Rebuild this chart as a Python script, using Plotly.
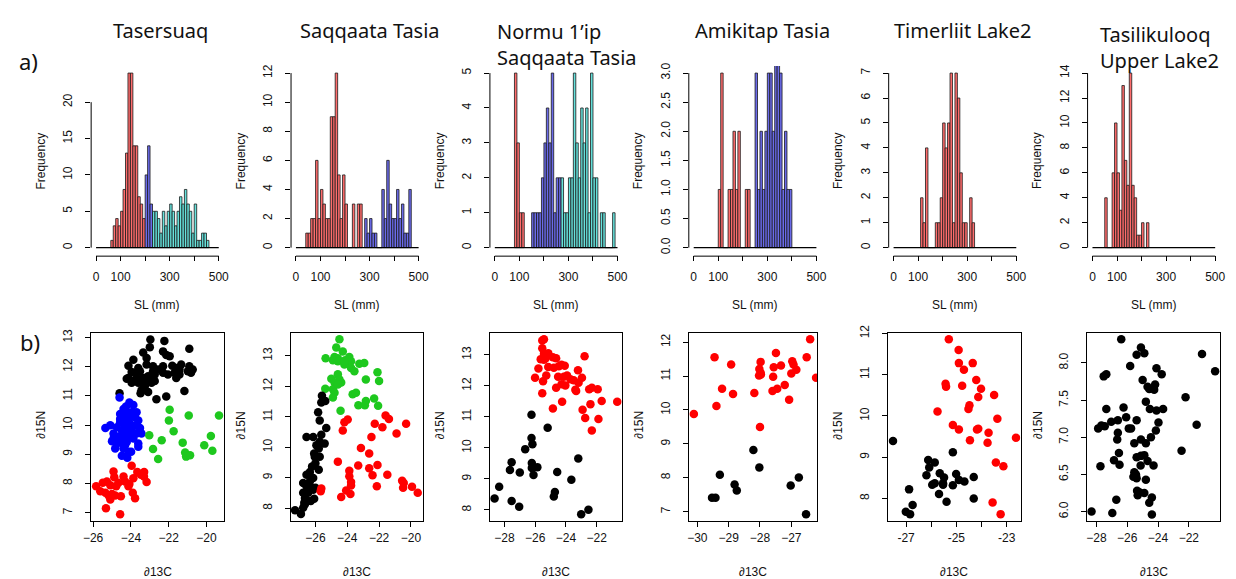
import plotly.graph_objects as go

W, H = 1236, 579

# ---------------- DATA: row a) histograms of SL (mm), 10 mm bins ----------------
BIN_W = 10
SL_BREAKS = [0, 500]

tasersuaq_red_from = 60
tasersuaq_red = [1, 3, 4, 3, 5, 8, 13, 24, 24, 14, 14, 7, 6, 4]
tasersuaq_blue_from = 200
tasersuaq_blue = [10, 14, 6]
tasersuaq_cyan_from = 230
tasersuaq_cyan = [5, 5, 4, 2, 5, 3, 5, 6, 5, 3, 5, 7, 6, 8, 6, 5, 2, 6, 1, 1, 2, 2, 1]

saqqaata_red_from = 40
saqqaata_red = [1, 1, 2, 2, 6, 2, 4, 3, 2, 2, 9, 9, 12, 5, 2, 5, 3, 0, 0, 3, 0, 3, 3]
saqqaata_blue_from = 280
saqqaata_blue = [2, 1, 2, 1, 1, 0, 0, 4, 2, 6, 3, 2, 2, 4, 2, 3, 1, 1, 4]

normu_red_from = 80
normu_red = [5, 3, 1, 1]
normu_blue_from = 150
normu_blue = [1, 1, 1, 1, 2, 3, 4, 3, 5, 1, 2, 2]
normu_cyan_from = 270
normu_cyan = [2, 1, 1, 2, 2, 5, 3, 2, 4, 3, 4, 1, 5, 2, 2, 0, 1, 1, 0, 0, 0, 1]

amikitap_red_from = 100
amikitap_red = [1, 3, 0, 0, 1, 1, 2, 1, 2, 0, 0, 1, 1]
amikitap_blue_from = 250
amikitap_blue = [3, 1, 2, 1, 2, 3, 3, 2, 4, 4, 3, 1, 2, 1, 1]

timerliit_red_from = 110
timerliit_red = [2, 1, 4, 0, 0, 0, 1, 1, 2, 5, 4, 5, 7, 1, 7, 6, 3, 1, 1, 0, 2, 1]

tasilikulooq_red_from = 50
tasilikulooq_red = [4, 0, 0, 6, 10, 6, 3, 13, 7, 5, 14, 5, 4, 1, 1, 2, 0, 2]

hist_titles = ["Tasersuaq", "Saqqaata Tasia", "Normu 1\u2019ip<br>Saqqaata Tasia",
               "Amikitap Tasia", "Timerliit Lake2", "Tasilikulooq<br>Upper Lake2"]
hist_ymax = [24, 12, 5, 3, 7, 14]
hist_yticks = [[0, 5, 10, 15, 20], [0, 2, 4, 6, 8, 10, 12], [0, 1, 2, 3, 4, 5],
               [0, 0.5, 1, 1.5, 2, 2.5, 3], [0, 1, 2, 3, 4, 5, 6, 7],
               [0, 2, 4, 6, 8, 10, 12, 14]]
sl_ticks = [0, 100, 200, 300, 400, 500]
sl_ticktext = ["0", "100", "", "300", "", "500"]

# ---------------- DATA: row b) d13C / d15N scatter ----------------
s1_black_c = [-22.97, -22.23, -23.35, -23.0, -22.3, -22.13, -21.95, -20.91, -23.87, -24.13, -23.17, -23.17,
              -23.61, -23.96, -23.52, -22.83, -22.56, -22.3, -21.81, -21.6, -21.34, -20.91, -20.73, -20.82,
              -20.99, -21.43, -21.69, -22.04, -22.3, -22.74, -23.09, -23.35, -23.7, -24.22, -23.87, -23.61,
              -23.35, -23.17, -22.91, -22.74, -23.26, -23.44, -23.09, -23.49, -24.6, -22.65, -22.13, -21.17,
              -21.6, -23.96, -22.83, -21.43, -23.7, -24.13, -23.0]
s1_black_n = [12.94, 12.89, 12.49, 12.67, 12.53, 12.41, 12.36, 12.62, 12.24, 12.04, 12.3, 12.08,
              11.96, 11.82, 11.85, 11.85, 11.91, 12.02, 12.04, 11.96, 12.08, 12.02, 11.91, 11.8,
              11.85, 11.91, 11.8, 11.74, 11.8, 11.74, 11.68, 11.62, 11.62, 11.59, 11.51, 11.45,
              11.4, 11.45, 11.45, 11.51, 11.34, 11.2, 11.14, 11.09, 11.09, 10.89, 10.98, 11.17,
              11.62, 11.45, 12.02, 11.74, 11.79, 11.62, 11.62]
s1_blue_c = [-24.6, -24.08, -23.87, -24.39, -24.57, -24.22, -23.96, -23.7, -24.36, -24.13, -23.78, -23.61,
             -24.57, -24.31, -24.05, -23.78, -23.52, -25.35, -25.09, -24.74, -24.48, -24.22, -23.96, -23.7,
             -23.44, -24.92, -24.66, -24.39, -24.13, -23.87, -24.92, -24.74, -24.48, -24.22, -23.61, -23.61,
             -24.83, -24.39, -24.13, -24.48, -24.19, -23.99, -24.57, -24.26, -24.05, -24.39, -24.22, -23.96,
             -24.57, -24.31, -25.0, -24.13]
s1_blue_n = [10.95, 10.78, 10.69, 10.55, 10.38, 10.44, 10.44, 10.44, 10.27, 10.21, 10.27, 10.16,
             10.1, 9.99, 10.05, 9.99, 9.9, 9.9, 10.0, 9.93, 9.82, 9.76, 9.82, 9.71,
             9.71, 9.71, 9.6, 9.65, 9.6, 9.54, 9.54, 9.37, 9.42, 9.42, 9.37, 9.26,
             9.2, 9.2, 9.09, 8.95, 8.88, 9.09, 10.21, 10.64, 10.3, 10.16, 9.88, 9.65,
             9.48, 9.31, 9.45, 10.13]
s1_green_c = [-21.95, -21.99, -21.74, -23.03, -22.37, -22.83, -22.56, -21.26, -20.94, -19.34, -19.77,
              -20.12, -19.69, -21.13, -21.08, -20.87]
s1_green_n = [10.53, 10.16, 9.79, 9.65, 9.48, 9.18, 8.84, 9.4, 10.33, 10.33, 9.63,
              9.31, 9.12, 9.06, 8.92, 8.97]
s1_red_c = [-25.84, -25.49, -25.62, -25.35, -25.18, -25.0, -24.83, -25.09, -25.32, -24.57, -24.53, -24.92,
            -24.88, -25.09, -24.78, -24.39, -24.31, -24.13, -24.08, -23.96, -23.87, -23.9, -23.78, -23.66,
            -23.47, -23.3, -23.31, -23.17, -24.66, -25.27]
s1_red_n = [7.9, 8.02, 7.73, 7.68, 7.59, 7.64, 7.59, 7.45, 7.15, 6.94, 7.56, 8.41,
            8.21, 7.94, 7.9, 8.24, 8.07, 7.9, 7.98, 8.61, 8.18, 7.68, 7.49, 8.39,
            8.3, 8.39, 8.24, 8.05, 8.02, 8.07]

s2_green_c = [-24.49, -24.69, -24.28, -25.36, -24.8, -24.59, -24.9, -24.59, -24.13, -23.87, -23.97, -23.76,
              -23.24, -22.93, -23.76, -23.55, -22.1, -24.18, -22.83, -22.0, -25.0, -24.59, -24.49, -24.8,
              -24.38, -24.9, -24.59, -25.38, -24.8, -23.66, -23.45, -24.9, -22.83, -23.3, -22.89, -22.31,
              -22.06, -24.42, -24.18]
s2_green_n = [13.54, 13.27, 13.14, 12.92, 12.96, 12.92, 12.85, 12.82, 12.85, 12.96, 12.76, 12.82,
              12.74, 12.76, 12.6, 12.49, 12.46, 12.71, 12.22, 12.17, 12.25, 12.39, 12.22, 12.12,
              12.12, 11.9, 12.06, 11.92, 11.79, 11.74, 11.79, 11.63, 11.52, 11.38, 11.38, 11.6,
              11.36, 11.2, 12.82]
s2_black_c = [-25.59, -25.38, -25.63, -25.83, -25.73, -25.32, -26.56, -26.14, -25.63, -25.42, -25.94, -25.73,
              -25.79, -26.08, -26.04, -25.73, -26.0, -26.21, -25.79, -26.35, -26.56, -26.77, -26.35, -26.14,
              -26.56, -26.25, -26.0, -26.77, -26.46, -26.14, -26.66, -26.7, -26.77, -26.08, -27.28, -26.91,
              -26.66, -26.29]
s2_black_n = [11.69, 11.52, 11.47, 11.15, 10.88, 10.63, 10.34, 10.34, 10.41, 10.12, 10.07, 10.18,
              9.96, 9.8, 9.69, 9.69, 9.48, 9.37, 9.26, 9.19, 9.1, 8.83, 8.88, 8.99,
              8.72, 8.67, 8.67, 8.51, 8.51, 8.61, 8.34, 8.18, 8.02, 8.31, 7.94, 7.81,
              8.13, 8.24]
s2_red_c = [-24.18, -23.97, -24.28, -21.59, -21.38, -22.27, -21.79, -20.3, -20.9, -22.48, -23.14, -22.62,
            -24.59, -23.87, -23.31, -22.1, -22.62, -22.41, -21.48, -23.87, -23.76, -23.76, -23.8, -24.07,
            -24.38, -22.14, -20.55, -20.45, -20.49, -19.93, -19.57, -25.63, -25.67]
s2_red_n = [10.82, 10.91, 10.55, 11.04, 10.93, 10.77, 10.66, 10.77, 10.45, 10.34, 9.98, 9.8,
            9.53, 9.23, 9.4, 9.42, 9.31, 9.08, 9.1, 9.05, 8.86, 8.75, 8.47, 8.58,
            8.37, 8.72, 8.9, 8.83, 8.67, 8.71, 8.51, 8.65, 8.56]

s3_red_c = [-25.54, -25.43, -25.54, -25.43, -25.15, -25.43, -25.32, -24.85, -24.64, -22.79, -25.79, -25.15,
            -24.79, -24.46, -24.29, -24.08, -26.01, -25.49, -25.28, -24.51, -24.14, -23.93, -24.29, -24.04,
            -23.71, -23.5, -24.64, -23.22, -23.39, -23.34, -22.96, -23.18, -22.49, -22.32, -21.94, -25.54,
            -24.25, -21.68, -20.67, -24.85, -22.41, -22.92, -22.75, -21.89, -22.32, -25.64]
s3_red_n = [13.46, 13.5, 13.21, 13.03, 13.05, 12.84, 12.89, 12.92, 12.89, 12.95, 12.56, 12.61,
            12.58, 12.63, 12.68, 12.65, 12.26, 12.15, 12.33, 12.29, 12.29, 12.33, 12.05, 12.01,
            12.21, 12.18, 11.94, 12.5, 11.87, 11.83, 12.26, 12.1, 11.89, 11.94, 11.89, 11.76,
            11.49, 11.51, 11.49, 11.27, 11.41, 11.23, 10.96, 10.93, 10.56, 12.86]
s3_black_c = [-26.24, -25.19, -26.24, -26.18, -26.65, -27.53, -27.64, -27.0, -26.22, -26.22, -25.86, -26.11,
              -23.2, -23.65, -24.57, -28.34, -28.64, -27.53, -27.04, -24.72, -24.79, -23.01, -22.54]
s3_black_n = [11.07, 10.65, 10.32, 10.12, 9.96, 9.54, 9.29, 9.21, 9.51, 9.35, 9.38, 9.13,
              9.66, 8.97, 9.22, 8.75, 8.37, 8.29, 8.1, 8.58, 8.43, 7.86, 8.01]

s4_red_c = [-30.11, -29.45, -29.39, -29.21, -28.92, -28.86, -28.18, -27.98, -28.02, -27.98, -28.03, -27.97,
            -28.0, -27.58, -27.56, -27.49, -27.33, -27.6, -27.45, -27.21, -27.07, -27.0, -26.97, -26.93,
            -26.84, -26.51, -26.4, -26.21]
s4_red_n = [9.88, 11.56, 10.12, 10.63, 11.34, 10.47, 10.5, 11.42, 11.21, 11.1, 11.02, 11.05,
            9.5, 10.98, 11.26, 11.68, 11.31, 10.56, 10.63, 10.74, 10.3, 11.08, 11.44, 11.34,
            11.19, 11.56, 12.09, 10.95]
s4_black_c = [-29.53, -29.42, -29.28, -28.81, -28.74, -28.21, -28.02, -27.02, -26.76, -26.53]
s4_black_n = [7.41, 7.41, 8.09, 7.8, 7.62, 8.82, 8.3, 7.77, 8.01, 6.92]

s5_red_c = [-25.3, -24.91, -24.9, -24.35, -24.7, -24.21, -24.02, -24.13, -25.43, -25.41, -24.77, -23.5,
            -24.48, -24.52, -25.75, -23.37, -25.14, -24.9, -24.18, -24.13, -23.72, -23.76, -24.46, -22.63,
            -23.43, -23.13, -23.56, -23.24]
s5_red_n = [11.86, 11.6, 11.28, 11.28, 11.12, 10.87, 10.66, 10.46, 10.78, 10.71, 10.73, 10.51,
            10.26, 10.17, 10.11, 9.93, 9.78, 9.67, 9.67, 9.69, 9.59, 9.35, 9.41, 9.47,
            8.87, 8.78, 7.9, 7.62]
s5_black_c = [-27.52, -25.14, -26.12, -26.08, -25.86, -26.19, -25.66, -25.49, -25.96, -25.86, -25.53, -25.53,
              -25.01, -24.9, -24.68, -25.14, -24.31, -25.69, -25.39, -26.88, -26.74, -27.01, -26.84, -24.31]
s5_black_n = [9.39, 9.12, 8.93, 8.75, 8.87, 8.56, 8.61, 8.51, 8.33, 8.37, 8.33, 8.37,
              8.59, 8.45, 8.41, 8.32, 8.52, 8.11, 7.92, 8.22, 7.84, 7.68, 7.62, 8.0]

s6_black_c = [-26.39, -25.11, -25.39, -24.89, -25.81, -21.14, -20.29, -27.53, -27.36, -24.1, -23.76, -25.0,
              -24.68, -24.57, -24.25, -24.19, -22.21, -24.79, -27.36, -26.24, -24.53, -24.1, -23.67, -26.07,
              -25.39, -27.04, -26.61, -27.89, -27.68, -27.46, -25.9, -25.75, -23.97, -21.49, -26.61, -24.14,
              -26.65, -25.11, -24.46, -25.54, -24.79, -24.89, -25.11, -22.47, -26.54, -25.39, -26.86, -24.68,
              -26.5, -25.13, -24.29, -27.74, -25.6, -25.39, -24.79, -25.43, -25.54, -25.36, -25.21, -24.89,
              -25.32, -24.4, -24.57, -26.71, -28.32, -26.97, -24.4]
s6_black_n = [8.32, 8.21, 8.11, 8.13, 7.96, 8.12, 7.89, 7.82, 7.85, 7.93, 7.85, 7.77,
              7.68, 7.65, 7.64, 7.71, 7.54, 7.48, 7.38, 7.4, 7.38, 7.36, 7.38, 7.27,
              7.23, 7.21, 7.23, 7.12, 7.16, 7.15, 7.12, 7.12, 7.2, 7.17, 7.06, 7.09,
              6.97, 6.97, 7.0, 6.92, 6.92, 6.76, 6.75, 6.82, 6.79, 6.73, 6.69, 6.68,
              6.63, 6.62, 6.62, 6.61, 6.47, 6.45, 6.43, 6.5, 6.53, 6.28, 6.26, 6.25,
              6.22, 6.19, 6.12, 6.16, 6.0, 5.98, 5.96]

scatter_ranges_c = [[-26.105, -19.075], [-27.554, -19.264], [-28.964, -20.329],
                    [-30.263, -26.168], [-27.721, -22.449], [-28.6, -19.965]]
scatter_ranges_n = [[6.718, 13.169], [7.59, 13.754], [7.65, 13.71],
                    [6.728, 12.28], [7.458, 12.016], [5.876, 8.407]]
scatter_cticks = [[-26, -24, -22, -20], [-26, -24, -22, -20], [-28, -26, -24, -22],
                  [-30, -29, -28, -27], [-27, -26, -25, -24, -23], [-28, -26, -24, -22]]
scatter_cticktext = [None, None, None, None, ["-27", "", "-25", "", "-23"], None]
scatter_nticks = [[7, 8, 9, 10, 11, 12, 13], [8, 9, 10, 11, 12, 13], [8, 9, 10, 11, 12, 13],
                  [7, 8, 9, 10, 11, 12], [8, 9, 10, 11, 12], [6.0, 6.5, 7.0, 7.5, 8.0]]

# ---------------- STYLE / LAYOUT ----------------
RED_BAR, BLUE_BAR, CYAN_BAR = "#ff6c6c", "#6a6aea", "#66e2dc"
RED, BLUE, GREEN, BLACK = "#ff0000", "#0000ff", "#1ec81e", "#000000"
AX_FONT = dict(family="Liberation Sans, Arial, sans-serif", size=12, color="#111")
TITLE_FONT = dict(family="Noto Sans, Open Sans, sans-serif", size=20, color="#111")

hist_groups = [
    [(tasersuaq_red_from, tasersuaq_red, RED_BAR), (tasersuaq_blue_from, tasersuaq_blue, BLUE_BAR),
     (tasersuaq_cyan_from, tasersuaq_cyan, CYAN_BAR)],
    [(saqqaata_red_from, saqqaata_red, RED_BAR), (saqqaata_blue_from, saqqaata_blue, BLUE_BAR)],
    [(normu_red_from, normu_red, RED_BAR), (normu_blue_from, normu_blue, BLUE_BAR),
     (normu_cyan_from, normu_cyan, CYAN_BAR)],
    [(amikitap_red_from, amikitap_red, RED_BAR), (amikitap_blue_from, amikitap_blue, BLUE_BAR)],
    [(timerliit_red_from, timerliit_red, RED_BAR)],
    [(tasilikulooq_red_from, tasilikulooq_red, RED_BAR)],
]
scatter_groups = [
    [(s1_black_c, s1_black_n, BLACK), (s1_blue_c, s1_blue_n, BLUE), (s1_green_c, s1_green_n, GREEN),
     (s1_red_c, s1_red_n, RED)],
    [(s2_green_c, s2_green_n, GREEN), (s2_black_c, s2_black_n, BLACK), (s2_red_c, s2_red_n, RED)],
    [(s3_red_c, s3_red_n, RED), (s3_black_c, s3_black_n, BLACK)],
    [(s4_red_c, s4_red_n, RED), (s4_black_c, s4_black_n, BLACK)],
    [(s5_red_c, s5_red_n, RED), (s5_black_c, s5_black_n, BLACK)],
    [(s6_black_c, s6_black_n, BLACK)],
]

hist_x0 = [89, 291, 492, 693, 895, 1096]          # pixel of SL = 0
HIST_PX_PER_MM = 124 / 500
HIST_TOP, HIST_BOTTOM = 58.9, 250.1
sc_left = [84, 285.7, 486.7, 688.3, 889.3, 1090.7]
sc_right = [218.3, 419, 621, 818, 1023.3, 1225]
SC_TOP, SC_BOTTOM = 329.3, 520


def fx(p):
    return p / W


def fy(p):
    return 1 - p / H


def ax_names(n):
    s = "" if n == 1 else str(n)
    return "x" + s, "y" + s, "xaxis" + s, "yaxis" + s


fig = go.Figure()
layout = dict(width=W, height=H, autosize=False, margin=dict(l=0, r=0, t=0, b=0, pad=0),
              paper_bgcolor="white", plot_bgcolor="white", showlegend=False,
              barmode="overlay", shapes=[], annotations=[])

for i in range(6):
    # ---- histogram panel ----
    xa, ya, xk, yk = ax_names(i + 1)
    for start, counts, col in hist_groups[i]:
        fig.add_trace(go.Bar(
            x=[start + BIN_W * (k + 0.5) for k in range(len(counts))], y=counts, width=BIN_W,
            marker=dict(color=col, line=dict(color="#1a1a1a", width=0.8)),
            xaxis=xa, yaxis=ya, hoverinfo="skip"))
    fig.add_trace(go.Scatter(x=SL_BREAKS, y=[0, 0], mode="lines",
                             line=dict(color="black", width=1.2),
                             xaxis=xa, yaxis=ya, hoverinfo="skip"))
    x0 = hist_x0[i]
    d0 = x0 - 20 * HIST_PX_PER_MM
    d1 = x0 + 520 * HIST_PX_PER_MM
    m = hist_ymax[i]
    layout[xk] = dict(domain=[fx(d0), fx(d1)], range=[-20, 520], anchor=ya,
                      tickvals=sl_ticks, ticktext=sl_ticktext, ticks="outside",
                      ticklen=5, tickcolor="black", showline=False, showgrid=False,
                      zeroline=False, tickfont=AX_FONT, ticklabelstandoff=6)
    layout[yk] = dict(domain=[fy(HIST_BOTTOM), fy(HIST_TOP)], range=[-0.04 * m, 1.04 * m],
                      anchor=xa, tickvals=hist_yticks[i], ticks="outside", ticklen=5,
                      tickcolor="black", tickangle=-90, showline=False, showgrid=False,
                      zeroline=False, tickfont=AX_FONT, ticklabelstandoff=8,
                      tickformat=".1f" if i == 3 else "d")
    layout["shapes"].append(dict(type="line", xref=f"{xa} domain", yref=ya, x0=0, x1=0,
                                 y0=hist_yticks[i][0], y1=hist_yticks[i][-1],
                                 line=dict(color="black", width=1)))
    layout["shapes"].append(dict(type="line", xref=xa, yref=f"{ya} domain", x0=sl_ticks[0],
                                 x1=sl_ticks[-1], y0=-0.008, y1=-0.008,
                                 line=dict(color="black", width=1)))
    layout["annotations"].append(dict(text="Frequency", x=fx(d0 - 51), y=fy(155), xref="paper",
                                      yref="paper", showarrow=False, textangle=-90,
                                      font=AX_FONT, xanchor="center", yanchor="middle"))
    layout["annotations"].append(dict(text="SL (mm)", x=fx(x0 + 62), y=fy(301), xref="paper",
                                      yref="paper", showarrow=False, font=AX_FONT,
                                      xanchor="center", yanchor="middle"))

    # ---- scatter panel ----
    xa2, ya2, xk2, yk2 = ax_names(i + 7)
    for cs, ns, col in scatter_groups[i]:
        fig.add_trace(go.Scatter(x=cs, y=ns, mode="markers",
                                 marker=dict(color=col, size=8.5, line=dict(width=0)),
                                 xaxis=xa2, yaxis=ya2, hoverinfo="skip"))
    layout[xk2] = dict(domain=[fx(sc_left[i]), fx(sc_right[i])], range=scatter_ranges_c[i],
                       anchor=ya2, tickvals=scatter_cticks[i], ticks="outside", ticklen=5,
                       tickcolor="black", showline=True, mirror=True, linecolor="black",
                       linewidth=1, showgrid=False, zeroline=False, tickfont=AX_FONT,
                       ticklabelstandoff=1)
    if scatter_cticktext[i] is not None:
        layout[xk2]["ticktext"] = scatter_cticktext[i]
    layout[yk2] = dict(domain=[fy(SC_BOTTOM), fy(SC_TOP)], range=scatter_ranges_n[i],
                       anchor=xa2, tickvals=scatter_nticks[i], ticks="outside", ticklen=5,
                       tickcolor="black", tickangle=-90, showline=True, mirror=True,
                       linecolor="black", linewidth=1, showgrid=False, zeroline=False,
                       tickfont=AX_FONT, ticklabelstandoff=8,
                       tickformat=".1f" if i == 5 else "d")
    layout["annotations"].append(dict(text="\u220215N", x=fx(sc_left[i] - 50), y=fy(423),
                                      xref="paper", yref="paper", showarrow=False, textangle=-90,
                                      font=AX_FONT, xanchor="center", yanchor="middle"))
    layout["annotations"].append(dict(text="\u220213C", x=fx((sc_left[i] + sc_right[i]) / 2),
                                      y=fy(572), xref="paper", yref="paper", showarrow=False,
                                      font=AX_FONT, xanchor="center", yanchor="middle"))

# ---- titles and panel letters ----
title_pos = [(154.5, 23, "center"), (365.5, 23, "center"), (492, 37, "left"),
             (763, 23, "center"), (965, 23, "center"), (1102, 40, "left")]
for (tx, ty, anc), t in zip(title_pos, hist_titles):
    layout["annotations"].append(dict(text=t, x=fx(tx), y=fy(ty), xref="paper", yref="paper",
                                      showarrow=False, font=TITLE_FONT, xanchor=anc,
                                      yanchor="middle", align="left"))
for lab, (lx, ly) in zip(["a)", "b)"], [(21, 54), (22, 339)]):
    layout["annotations"].append(dict(text=lab, x=fx(lx), y=fy(ly), xref="paper", yref="paper",
                                      showarrow=False, xanchor="center", yanchor="middle",
                                      font=dict(family="Noto Sans, Open Sans, sans-serif",
                                                size=22, color="#111")))

fig.update_layout(**layout)
fig.write_html("out.html")
